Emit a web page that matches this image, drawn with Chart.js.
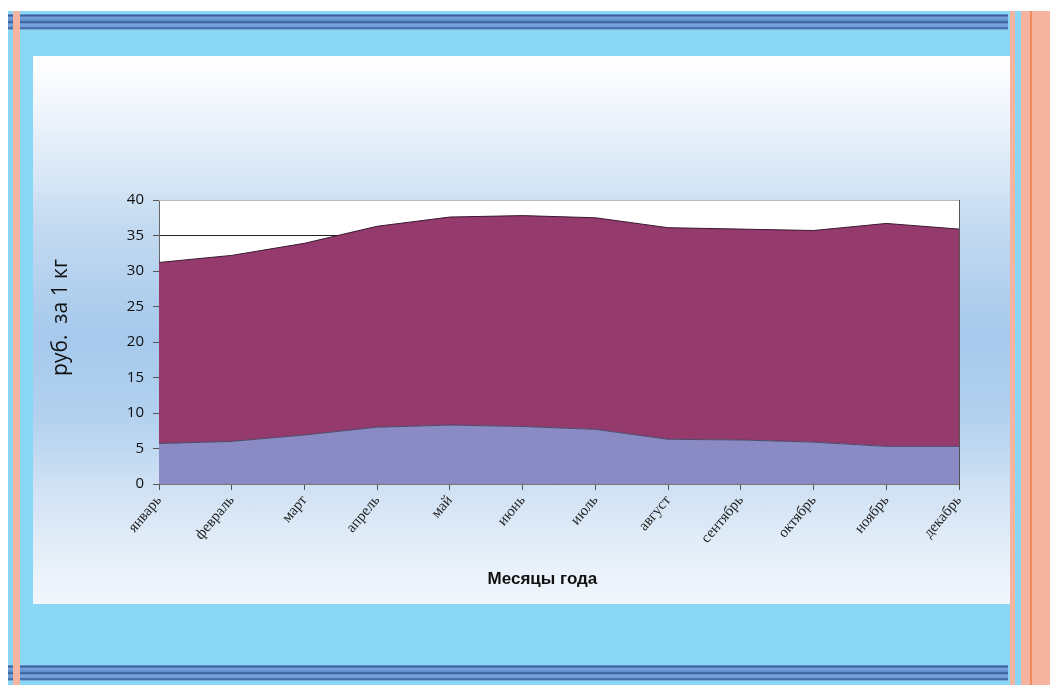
<!DOCTYPE html>
<html>
<head>
<meta charset="utf-8">
<script src="https://cdn.jsdelivr.net/npm/chart.js@4"></script>
<style>
  html, body { margin: 0; padding: 0; background: #fff; }
  body { width: 1050px; height: 685px; position: relative; overflow: hidden; }
  .slide { position: absolute; left: 8px; top: 11px; width: 1042px; height: 674px; background: #8ad6f5; }
  .stripes { position: absolute; left: 8px; width: 1000px; height: 16px;
    background: linear-gradient(to bottom, #6f9fd8 0, #2c4f8c 2px, #7aa6dc 3px, #5b8ccc 7px, #2c4f8c 8px, #7aa6dc 10px, #6b9bd6 13px, #2c4f8c 14px, #9cc8ee 16px); }
  .pink { position: absolute; background: #f4b4a0; }
  .panel { position: absolute; left: 33px; top: 56px; width: 977px; height: 548px;
    background: linear-gradient(to bottom, #ffffff 0, #eef4fc 60px, #d7e7f6 120px, #c3daf1 170px, #a6c9ec 280px, #b2d1ef 360px, #cfe1f4 430px, #e6eff9 500px, #f2f7fd 548px); }
</style>
</head>
<body>
<div class="slide"></div>
<div class="stripes" style="top:14px"></div>
<div class="stripes" style="top:665px"></div>
<div class="pink" style="left:13px; top:11px; width:7px; height:674px"></div>
<div class="panel"><canvas id="areaChart" width="977" height="548"></canvas></div>
<div class="pink" style="left:1010px; top:11px; width:5px; height:674px"></div>
<div class="pink" style="left:1021px; top:11px; width:29px; height:674px"></div>
<div style="position:absolute; left:1030px; top:11px; width:2px; height:674px; background:#f08a5a"></div>

<script>
// Months of the year
const months = ["январь","февраль","март","апрель","май","июнь","июль","август","сентябрь","октябрь","ноябрь","декабрь"];

// Lower series (lavender)
const lowerValues = [5.7, 6.0, 6.9, 8.0, 8.3, 8.1, 7.7, 6.3, 6.2, 5.9, 5.3, 5.3];

// Upper series (maroon), stacked on top of the lower one
const upperValues = [25.5, 26.2, 27.0, 28.3, 29.3, 29.7, 29.8, 29.8, 29.7, 29.8, 31.4, 30.6];

const yMin = 0, yMax = 40, yStep = 5;

// white plot background + right border of the plot area
const plotFrame = {
  id: "plotFrame",
  beforeDraw(chart) {
    const { ctx, chartArea: a } = chart;
    ctx.save();
    ctx.fillStyle = "#ffffff";
    ctx.fillRect(a.left, a.top, a.right - a.left, a.bottom - a.top);
    ctx.restore();
  },
  afterDraw(chart) {
    const { ctx, chartArea: a } = chart;
    ctx.save();
    ctx.strokeStyle = "#555";
    ctx.lineWidth = 1;
    ctx.beginPath();
    ctx.moveTo(a.right + 0.5, a.top);
    ctx.lineTo(a.right + 0.5, a.bottom + 6);
    ctx.stroke();
    ctx.strokeStyle = "#b8b8b8";
    ctx.beginPath();
    ctx.moveTo(a.left, a.top + 0.5);
    ctx.lineTo(a.right, a.top + 0.5);
    ctx.stroke();
    ctx.restore();
  }
};

const ctx = document.getElementById("areaChart").getContext("2d");
new Chart(ctx, {
  type: "line",
  data: {
    labels: months,
    datasets: [
      {
        label: "нижний ряд",
        data: lowerValues,
        fill: "origin",
        backgroundColor: "#8a8ac4",
        borderColor: "#4a4a6a",
        borderWidth: 1,
        pointRadius: 0,
        tension: 0
      },
      {
        label: "верхний ряд",
        data: upperValues,
        fill: "-1",
        backgroundColor: "#953a6c",
        borderColor: "#3a1a30",
        borderWidth: 1,
        pointRadius: 0,
        tension: 0
      }
    ]
  },
  options: {
    responsive: false,
    animation: false,
    layout: { padding: { top: 144, right: 51, bottom: 0, left: 0 } },
    plugins: {
      legend: { display: false },
      tooltip: { enabled: false }
    },
    scales: {
      x: {
        offset: false,
        afterFit: (s) => { s.height = 120; },
        grid: { display: true, drawOnChartArea: false, drawTicks: true, tickLength: 6, tickColor: "#555", offset: false },
        border: { display: true, color: "#777" },
        ticks: {
          autoSkip: false,
          maxRotation: 50,
          minRotation: 50,
          padding: 2,
          color: "#222",
          font: { family: "Liberation Serif", size: 15 }
        },
        title: {
          display: true,
          // trailing spaces nudge the centred title a little to the left, as in the original
          text: "Месяцы года       ",
          color: "#111",
          padding: { top: 0, bottom: 14 },
          font: { family: "Liberation Sans", size: 17, weight: "bold" }
        }
      },
      y: {
        stacked: true,
        min: yMin,
        max: yMax,
        afterFit: (s) => { s.width = 126; },
        grid: {
          color: (c) => (c.tick && c.tick.value === yMax ? "rgba(0,0,0,0)" : "#222"),
          tickColor: "#555",
          tickLength: 6
        },
        border: { display: true, color: "#666" },
        ticks: {
          stepSize: yStep,
          padding: 9,
          color: "#111",
          font: { family: "Open Sans", size: 15 }
        },
        title: {
          display: true,
          // leading spaces lift the rotated title a bit, as in the original
          text: "         руб.  за 1 кг",
          color: "#111",
          padding: { top: 15, bottom: 0 },
          font: { family: "Open Sans", size: 21 }
        }
      }
    }
  },
  plugins: [plotFrame]
});
</script>
</body>
</html>
